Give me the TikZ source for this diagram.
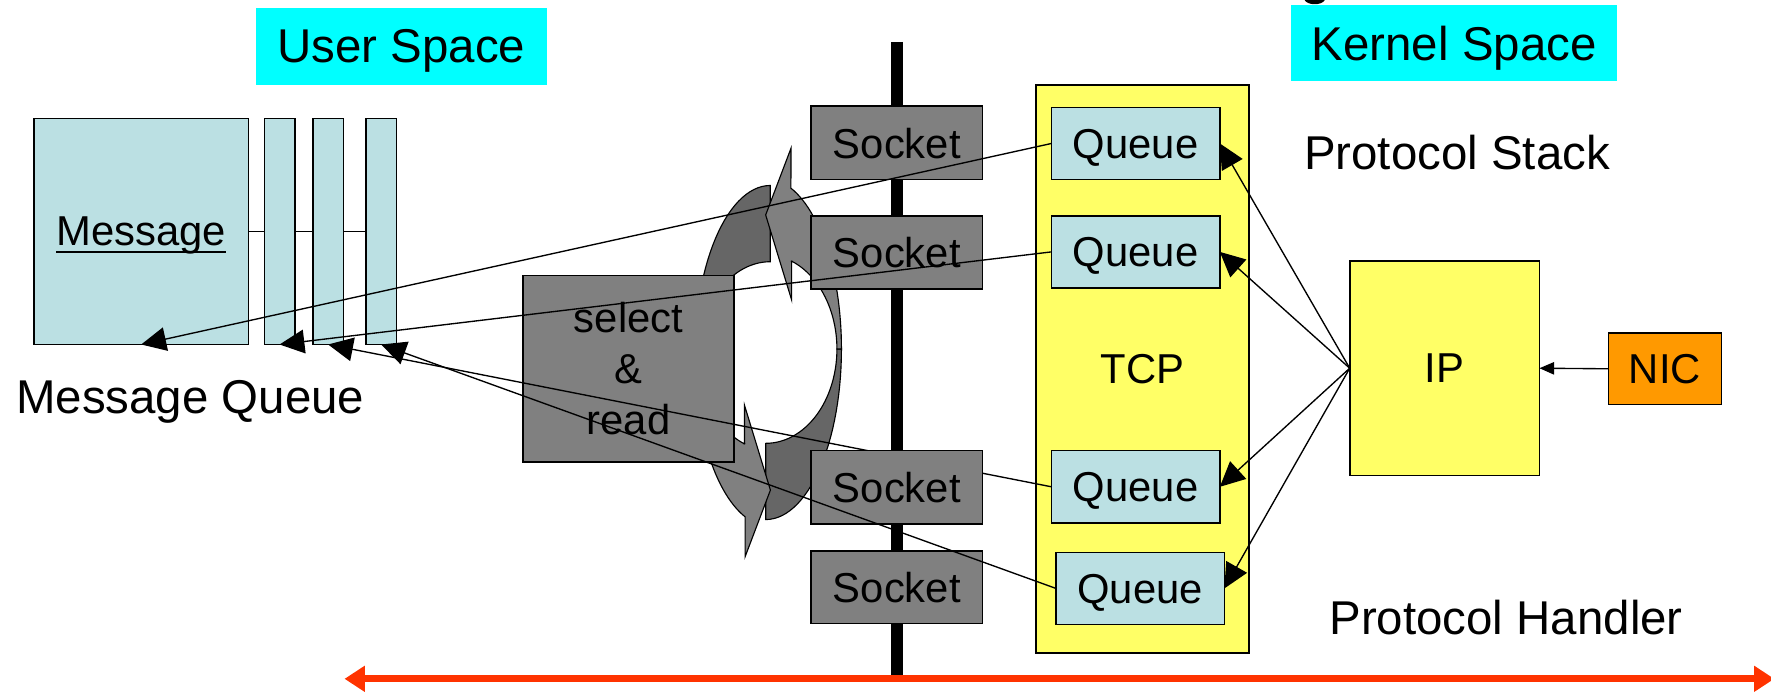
\documentclass[tikz,border=0pt]{standalone}
\usepackage{fontspec}
\setmainfont{Liberation Sans}
\usetikzlibrary{arrows.meta,calc}
\definecolor{lblue}{RGB}{187,224,227}
\definecolor{cyanbg}{RGB}{0,255,255}
\definecolor{yel}{RGB}{255,255,102}
\definecolor{gr}{RGB}{128,128,128}
\definecolor{dgr}{RGB}{102,102,102}
\definecolor{org}{RGB}{255,153,0}
\definecolor{redarr}{RGB}{255,51,0}
\newcommand{\myul}[1]{\leavevmode\setbox0\hbox{#1}\rlap{\rule[-0.16em]{\wd0}{0.05em}}\box0}
\begin{document}
\begin{tikzpicture}[x=0.5pt,y=-0.5pt,
  every node/.style={inner sep=0pt,outer sep=0pt},
  boxfont/.style={font=\fontsize{18.5}{22.6}\selectfont},
  labeltext/.style={font=\fontsize{21}{25}\selectfont, anchor=base},
  bx/.style={draw=black, line width=0.7pt, boxfont, text depth=0pt},
  blue box/.style={bx, fill=lblue},
  gray box/.style={bx, fill=gr},
  yellow box/.style={bx, fill=yel},
  space box/.style={fill=cyanbg, font=\fontsize{21}{25}\selectfont, text depth=0pt, minimum height=34pt},
  thinline/.style={line width=0.6pt},
  conn/.style={line width=0.6pt, -{Triangle[length=11pt,width=10.5pt]}},
  arrshape/.style={draw=black, line width=0.5pt},
  arrlightpath/.style={insert path={(700.3,131.3) -- (677.9,190.3) -- (700.9,265.6) -- (700.9,231.2)
     -- plot[domain=-68.7:0,samples=30] ({678+63*cos(\x)},{309+83.5*sin(\x)})
     -- plot[domain=0:-70.6,samples=30] ({678+67*cos(\x)},{309+151*sin(\x)}) -- cycle}},
  arrdarkpath/.style={insert path={plot[domain=0:90,samples=30] ({678+63*cos(\x)},{309+83.5*sin(\x)})
     -- plot[domain=90:0,samples=30] ({678+67*cos(\x)},{309+151*sin(\x)}) -- cycle}},
]
\useasboundingbox (0,0) rectangle (1568,612);
\clip (0,0) rectangle (1568,612);

% space labels
\node[space box, minimum width=128.5pt] (user) at (355.5,41) {User Space};
\node[space box, minimum width=144.5pt] (kernel) at (1287.5,38) {Kernel Space};
\fill (1155,0) .. controls (1158,5) and (1170,5) .. (1173,0) -- cycle;

% message queue (user space)
\node[blue box, minimum width=95pt, minimum height=100pt] (msg) at (125,205) {\myul{Message}};
\node[blue box, minimum width=13.5pt, minimum height=100pt] (b1) at (247.5,205) {};
\node[blue box, minimum width=13.5pt, minimum height=100pt] (b2) at (290.5,205) {};
\node[blue box, minimum width=13.5pt, minimum height=100pt] (b3) at (337.5,205) {};
\draw[thinline] (msg.east) -- (b1.west) (b1.east) -- (b2.west) (b2.east) -- (b3.west);
\node[labeltext] (mqlabel) at (168.5,366) {Message Queue};

% kernel side
\node[yellow box, minimum width=94.5pt, minimum height=251.5pt] (tcp) at (1011.5,326.5) {TCP};
\node[blue box, minimum width=74.5pt, minimum height=32pt] (q1) at (1005.5,127) {Queue};
\node[blue box, minimum width=74.5pt, minimum height=32pt] (q2) at (1005.5,223) {Queue};
\node[blue box, minimum width=74.5pt, minimum height=32pt] (q3) at (1005.5,431) {Queue};
\node[blue box, minimum width=74.5pt, minimum height=32pt] (q4) at (1009.5,521) {Queue};
\node[yellow box, minimum width=84pt, minimum height=95pt] (ip) at (1279,326) {IP};
\node[bx, fill=org, minimum width=50pt, minimum height=31.5pt] (nic) at (1474,326.5) {NIC};
\node[labeltext] (pstack) at (1290,150) {Protocol Stack};
\node[labeltext] (phandler) at (1333.5,561.5) {Protocol Handler};

% boundary bar
\coordinate (bartop) at (794,37);
\coordinate (barbot) at (794,598);
\draw[line width=5.5pt] (bartop) -- (barbot);

% circular arrows
\path[arrshape, fill=dgr, arrdarkpath];
\begin{scope}[rotate around={180:(680,312.1)}]
  \path[arrshape, fill=dgr, arrdarkpath];
\end{scope}
\path[arrshape, fill=gr, arrlightpath];
\begin{scope}[rotate around={180:(680,312.1)}]
  \path[arrshape, fill=gr, arrlightpath];
\end{scope}

% select & read
\node[gray box, minimum width=93.5pt, minimum height=82.5pt, align=center] (sel) at (556.5,326.5) {select\\\&\\read};

\draw[conn] (q3.west) -- (b2.south);

% sockets
\node[gray box, minimum width=76pt, minimum height=32.5pt] (s1) at (794,126.5) {Socket};
\node[gray box, minimum width=76pt, minimum height=32.5pt] (s2) at (794,223.5) {Socket};
\node[gray box, minimum width=76pt, minimum height=32.5pt] (s3) at (794,431.5) {Socket};
\node[gray box, minimum width=76pt, minimum height=32pt] (s4) at (794,520) {Socket};

% connectors
\draw[conn] (q1.west) -- (msg.south);
\draw[conn] (q2.west) -- (b1.south);
\draw[conn] (q4.west) -- (b3.south);
\foreach \q in {q1,q2,q3,q4} \draw[conn] (ip.west) -- (\q.east);
\draw[thinline, -{Triangle[length=6.5pt,width=5.5pt]}] (nic.west) -- (ip.east);

% red range arrow
\coordinate (rl) at (305,601);
\coordinate (rr) at (1571,601);
\draw[redarr, line width=3pt, {Triangle[length=9pt,width=11pt]}-{Triangle[length=9pt,width=11pt]}] (rl) -- (rr);
\end{tikzpicture}
\end{document}
